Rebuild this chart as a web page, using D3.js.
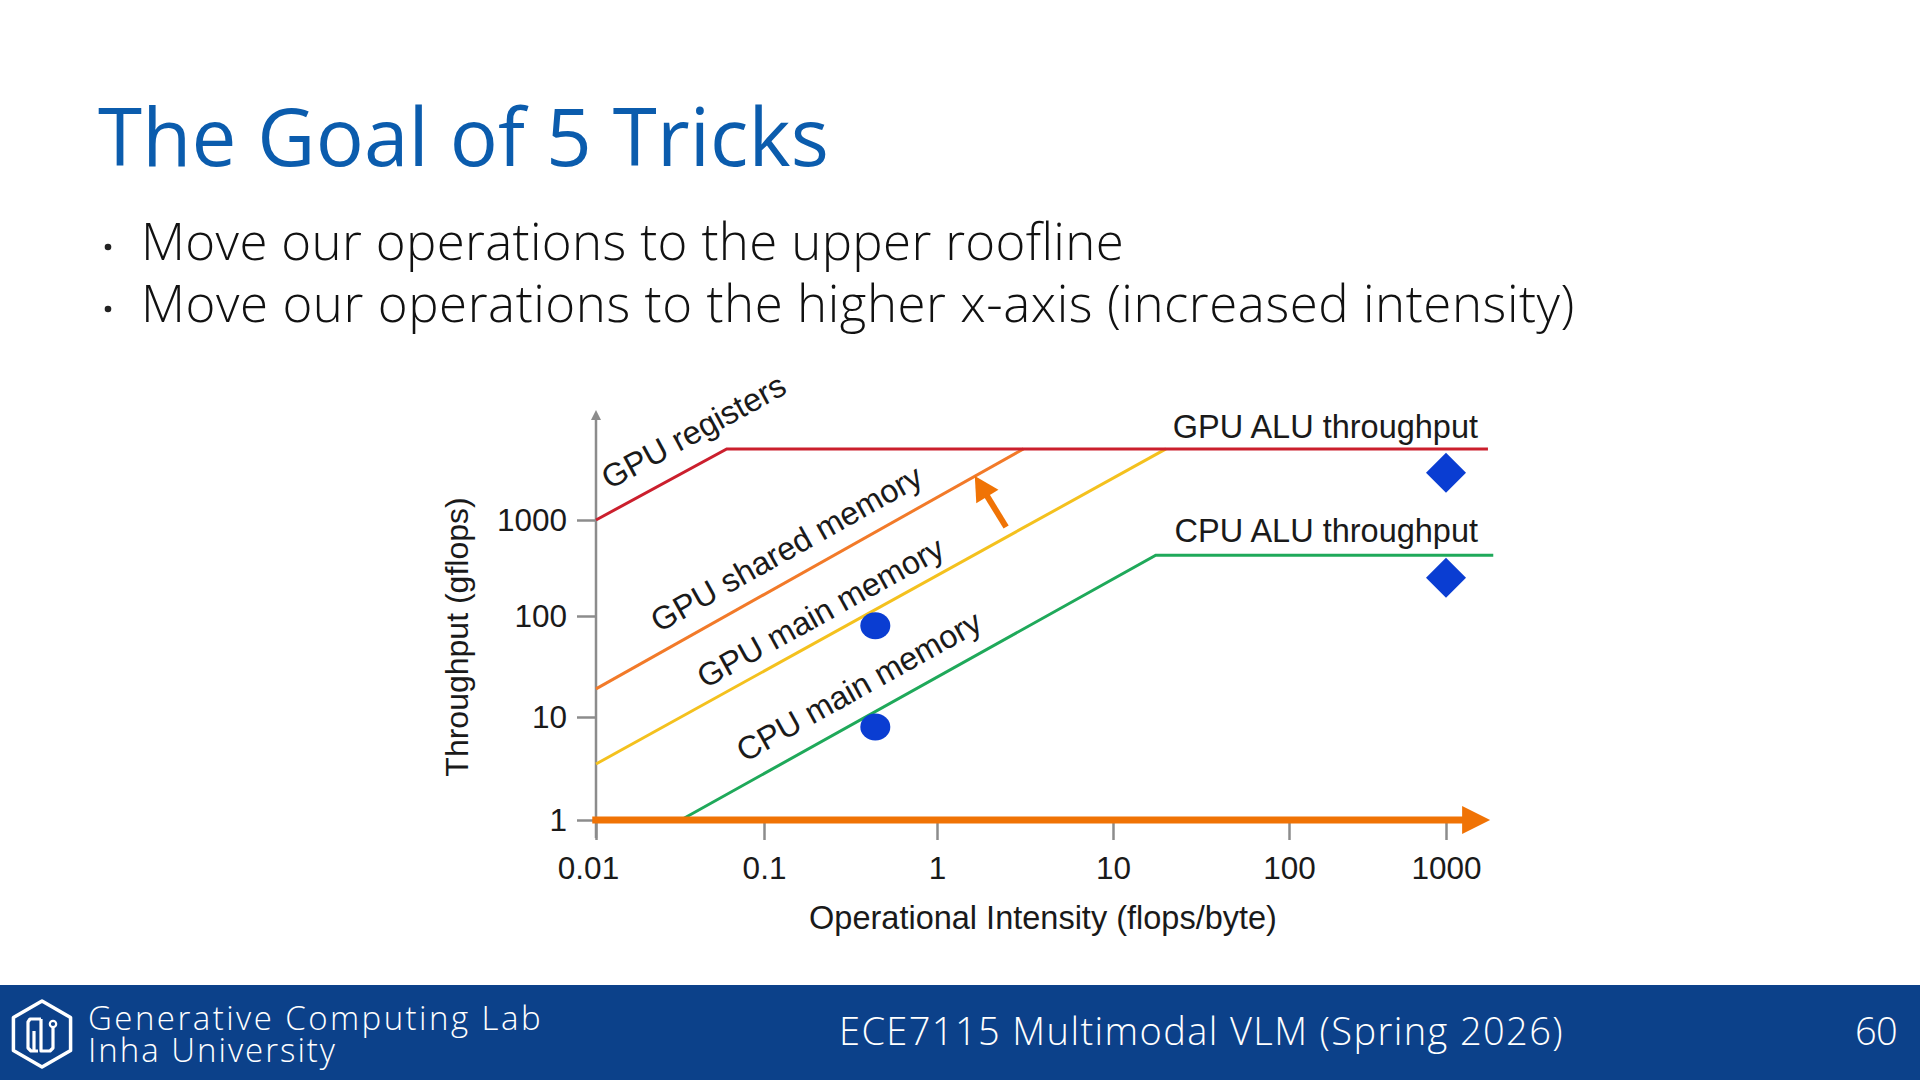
<!DOCTYPE html>
<html>
<head>
<meta charset="utf-8">
<script src="https://cdn.jsdelivr.net/npm/d3@7"></script>
<style>
  html, body { margin: 0; padding: 0; background: #fff; }
  svg { display: block; }
</style>
</head>
<body>
<div id="slide"></div>
<script>
// axis ticks
var xTicks = [0.01, 0.1, 1, 10, 100, 1000],
    yTicks = [1, 10, 100, 1000];

// roofline series, [operational intensity, gflops]
var gpuRegisters = [[0.01, 1000], [0.06, 5500], [1850, 5500]],
    gpuShared = [[0.01, 19], [3.1, 5500]],
    gpuMain = [[0.01, 3.5], [20, 5500]],
    cpuMain = [[0.032, 1], [17.5, 430], [2000, 430]];

var lineNames = ["GPU registers", "GPU shared memory", "GPU main memory", "CPU main memory"],
    lineLabelAt = [[0.041, 6600], [0.145, 400], [0.228, 87], [0.38, 16.2]];

var ceilingNames = ["GPU ALU throughput", "CPU ALU throughput"],
    ceilingLabelAt = [[1600, 7150], [1600, 590]];

// operations on the plot
var circleOps = [[0.44, 80], [0.44, 8]],
    diamondOps = [[1000, 3100], [1000, 250]];

// orange arrows: "move up" and the intensity axis
var moveUp = [[2.47, 845], [1.64, 2870]],
    intensityArrow = [[0.0095, 1], [1910, 1]];

var bullets = ["Move our operations to the upper roofline",
               "Move our operations to the higher x-axis (increased intensity)"];

var W = 1920, H = 1080;
var slideFont = "'Open Sans', 'Noto Sans', sans-serif",
    chartFont = "'Liberation Sans', Arial, Helvetica, sans-serif";

var svg = d3.select("#slide").append("svg")
    .attr("width", W)
    .attr("height", H)
    .style("background", "#fff");

// spread the letters so the text spans the same width as in the slide
function fit(sel, width) {
    var txt = sel.text();
    var w = sel.node().getComputedTextLength();
    sel.attr("letter-spacing", ((width - w) / txt.length).toFixed(3));
    return sel;
}

// ---- title & bullets
fit(svg.append("text")
    .attr("x", 98)
    .attr("y", 166)
    .attr("font-family", slideFont)
    .attr("font-size", 80)
    .attr("fill", "#0b5cad")
    .text("The Goal of 5 Tricks"), 731);

bullets.forEach(function (b, i) {
    var by = 260 + i * 62;
    svg.append("circle")
        .attr("cx", 108)
        .attr("cy", by - 13)
        .attr("r", 3.3)
        .attr("fill", "#222");
    fit(svg.append("text")
        .attr("x", 141)
        .attr("y", by)
        .attr("font-family", slideFont)
        .attr("font-weight", 300)
        .attr("font-size", 51)
        .attr("fill", "#111")
        .text(b), i == 0 ? 983 : 1434);
});

// ---- chart
var x = d3.scaleLog().domain(xTicks).range([596, 764, 937, 1113, 1289, 1446]);
var y = d3.scaleLog().domain(yTicks).range([820, 717, 616, 520]);

var chart = svg.append("g").attr("font-family", chartFont);
var axisColor = "#8c8c8c";

var xAxis = chart.append("g")
    .attr("transform", "translate(0," + y(1) + ")")
    .call(d3.axisBottom(x).tickValues(xTicks).tickFormat(d3.format("~g")).tickSize(20).tickPadding(17));
var yAxis = chart.append("g")
    .attr("transform", "translate(" + x(0.01) + ",0)")
    .call(d3.axisLeft(y).tickValues(yTicks).tickFormat(d3.format("~g")).tickSize(19).tickPadding(10));

[xAxis, yAxis].forEach(function (a) {
    a.select(".domain").remove();
    a.selectAll(".tick line").attr("stroke", axisColor).attr("stroke-width", 2.5);
    a.selectAll(".tick text")
        .attr("fill", "#1a1a1a")
        .attr("font-size", 31.5)
        .attr("font-family", chartFont);
});
// first x label sits a bit left of its tick
xAxis.selectAll(".tick text").filter(function (d) { return d == 0.01; }).attr("dx", -8);

// vertical axis with its small arrow
var yTop = y(1000) - 110;
chart.append("line")
    .attr("x1", x(0.01)).attr("x2", x(0.01))
    .attr("y1", y(1) + 18).attr("y2", yTop + 6)
    .attr("stroke", axisColor)
    .attr("stroke-width", 2.5);
chart.append("path")
    .attr("d", "M" + (x(0.01) - 5) + "," + (yTop + 10) + "L" + x(0.01) + "," + yTop + "L" + (x(0.01) + 5) + "," + (yTop + 10) + "Z")
    .attr("fill", axisColor);

// axis titles
chart.append("text")
    .attr("x", (x(0.01) + x(1000)) / 2 + 22)
    .attr("y", 929)
    .attr("text-anchor", "middle")
    .attr("font-size", 32.5)
    .attr("fill", "#1a1a1a")
    .text("Operational Intensity (flops/byte)");
chart.append("text")
    .attr("transform", "translate(468,637) rotate(-90)")
    .attr("text-anchor", "middle")
    .attr("font-size", 32)
    .attr("fill", "#1a1a1a")
    .text("Throughput (gflops)");

// roofline lines
var line = d3.line()
    .x(function (d) { return x(d[0]); })
    .y(function (d) { return y(d[1]); });

var roofs = [cpuMain, gpuMain, gpuShared, gpuRegisters];
var roofColors = ["#1fa95a", "#f4c11e", "#f27a29", "#cb1f2d"];

chart.selectAll(".roof")
    .data(roofs)
    .enter()
    .append("path")
    .attr("class", "roof")
    .attr("d", line)
    .attr("fill", "none")
    .attr("stroke", function (d, i) { return roofColors[i]; })
    .attr("stroke-width", 3);

// slanted labels follow the slope of their line
var labelSeries = [gpuRegisters, gpuShared, gpuMain, cpuMain];
chart.selectAll(".roofLabel")
    .data(lineNames)
    .enter()
    .append("text")
    .attr("class", "roofLabel")
    .attr("transform", function (d, i) {
        var s = labelSeries[i];
        var ang = Math.atan2(y(s[1][1]) - y(s[0][1]), x(s[1][0]) - x(s[0][0])) * 180 / Math.PI;
        return "translate(" + x(lineLabelAt[i][0]) + "," + y(lineLabelAt[i][1]) + ") rotate(" + ang + ")";
    })
    .attr("text-anchor", "middle")
    .attr("font-size", 32.5)
    .attr("fill", "#1a1a1a")
    .text(function (d) { return d; });

chart.selectAll(".ceilLabel")
    .data(ceilingNames)
    .enter()
    .append("text")
    .attr("class", "ceilLabel")
    .attr("x", function (d, i) { return x(ceilingLabelAt[i][0]); })
    .attr("y", function (d, i) { return y(ceilingLabelAt[i][1]); })
    .attr("text-anchor", "end")
    .attr("font-size", 32.5)
    .attr("fill", "#1a1a1a")
    .text(function (d) { return d; });

// operations
var opColor = "#0a3dd2";
chart.selectAll(".op")
    .data(circleOps)
    .enter()
    .append("ellipse")
    .attr("class", "op")
    .attr("cx", function (d) { return x(d[0]); })
    .attr("cy", function (d) { return y(d[1]); })
    .attr("rx", 15)
    .attr("ry", 13.5)
    .attr("fill", opColor);

chart.selectAll(".opd")
    .data(diamondOps)
    .enter()
    .append("path")
    .attr("class", "opd")
    .attr("d", d3.symbol().type(d3.symbolSquare).size(800))
    .attr("transform", function (d) {
        return "translate(" + x(d[0]) + "," + y(d[1]) + ") rotate(45)";
    })
    .attr("fill", opColor);

// orange arrows
var arrowColor = "#f07305";
function arrow(from, to, width, headLen, headHalf) {
    var x1 = x(from[0]), y1 = y(from[1]), x2 = x(to[0]), y2 = y(to[1]);
    var a = Math.atan2(y2 - y1, x2 - x1);
    var bx = x2 - headLen * Math.cos(a), by = y2 - headLen * Math.sin(a);
    chart.append("line")
        .attr("x1", x1).attr("y1", y1)
        .attr("x2", bx + Math.cos(a)).attr("y2", by + Math.sin(a))
        .attr("stroke", arrowColor)
        .attr("stroke-width", width);
    var px = -Math.sin(a) * headHalf, py = Math.cos(a) * headHalf;
    chart.append("path")
        .attr("d", "M" + x2 + "," + y2 + "L" + (bx + px) + "," + (by + py) + "L" + (bx - px) + "," + (by - py) + "Z")
        .attr("fill", arrowColor);
}
arrow(intensityArrow[0], intensityArrow[1], 7, 28, 14);
arrow(moveUp[0], moveUp[1], 6, 24, 13);

// ---- footer
var footer = svg.append("g");
footer.append("rect")
    .attr("x", 0).attr("y", 985)
    .attr("width", W).attr("height", H - 985)
    .attr("fill", "#0c418a");

// lab logo
var hex = d3.range(6).map(function (k) {
    var a = Math.PI / 3 * k - Math.PI / 2;
    return [42 + 33 * Math.cos(a), 1034 + 33 * Math.sin(a)];
});
footer.append("path")
    .attr("d", "M" + hex.join("L") + "Z")
    .attr("fill", "none")
    .attr("stroke", "#fff")
    .attr("stroke-width", 3.5)
    .attr("stroke-linejoin", "round");
footer.append("path")
    .attr("d", "M41,1019 L30,1019 L28,1022 L28,1048 L31,1051 L38,1051 M34,1031 L34,1051 M41,1019 L41,1051 L50,1051 L53,1048 L53,1028")
    .attr("fill", "none")
    .attr("stroke", "#fff")
    .attr("stroke-width", 3.2)
    .attr("stroke-linejoin", "round");
footer.append("circle")
    .attr("cx", 53).attr("cy", 1024).attr("r", 3.2)
    .attr("fill", "none")
    .attr("stroke", "#fff")
    .attr("stroke-width", 2.2);

fit(footer.append("text")
    .attr("x", 88).attr("y", 1030)
    .attr("font-family", slideFont).attr("font-weight", 300)
    .attr("font-size", 33).attr("fill", "#fff")
    .text("Generative Computing Lab"), 455);
fit(footer.append("text")
    .attr("x", 88).attr("y", 1062)
    .attr("font-family", slideFont).attr("font-weight", 300)
    .attr("font-size", 33).attr("fill", "#fff")
    .text("Inha University"), 249);
fit(footer.append("text")
    .attr("x", 839).attr("y", 1045)
    .attr("font-family", slideFont).attr("font-weight", 300)
    .attr("font-size", 38).attr("fill", "#fff")
    .text("ECE7115 Multimodal VLM (Spring 2026)"), 725);
fit(footer.append("text")
    .attr("x", 1897).attr("y", 1045)
    .attr("text-anchor", "end")
    .attr("font-family", slideFont).attr("font-weight", 300)
    .attr("font-size", 38).attr("fill", "#fff")
    .text("60"), 42);
</script>
</body>
</html>
